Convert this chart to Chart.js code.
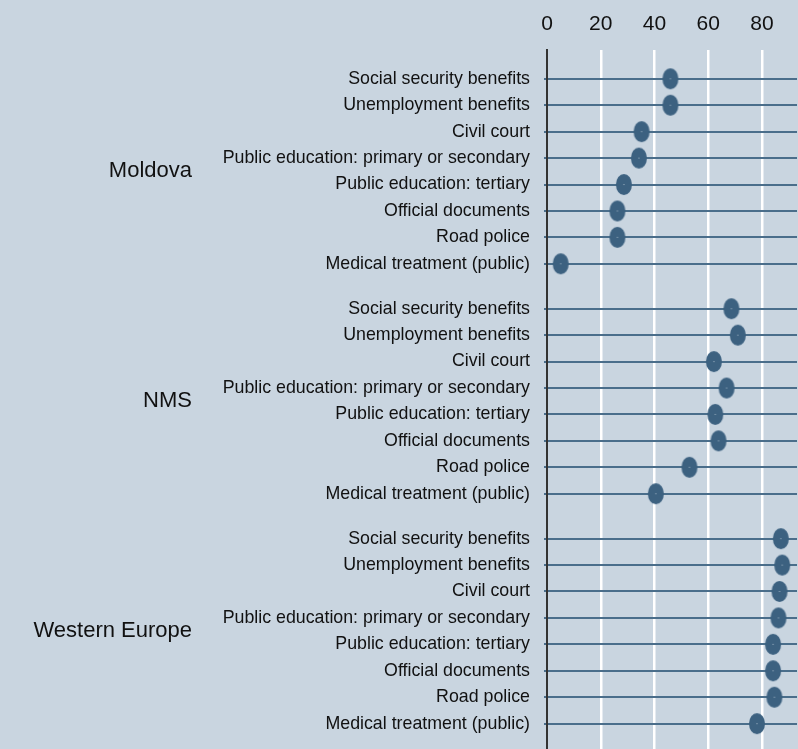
<!DOCTYPE html>
<html>
<head>
  <title>Dot plot</title>
  <script src="https://cdn.jsdelivr.net/npm/chart.js"></script>
  <style>
    body { margin: 0; background: #c9d5e0; }
    canvas { display: block; }
  </style>
</head>
<body>
  <canvas id="chart" width="798" height="749"></canvas>
  <script>
    var groups = ['Moldova', 'NMS', 'Western Europe'];
    var services = [
      'Social security benefits',
      'Unemployment benefits',
      'Civil court',
      'Public education: primary or secondary',
      'Public education: tertiary',
      'Official documents',
      'Road police',
      'Medical treatment (public)'
    ];
    var moldova = [45.9, 45.9, 35.2, 34.2, 28.6, 26.2, 26.2, 5.1];
    var nms = [68.6, 71.0, 62.1, 66.8, 62.6, 63.8, 53.0, 40.5];
    var westernEurope = [87.0, 87.5, 86.5, 86.1, 84.1, 84.1, 84.6, 78.1];
    var xTicks = [0, 20, 40, 60, 80];

    var groupValues = [moldova, nms, westernEurope];
    var groupStep = 8.7;  // rows between group starts (8 rows + gap)
    var family = "'Liberation Sans', Arial, sans-serif";

    var rowPos = [], rowLabels = [], points = [];
    var groupPos = [];
    for (var g = 0; g < groups.length; g++) {
      groupPos.push(g * groupStep + (services.length - 1) / 2);
      for (var i = 0; i < services.length; i++) {
        var y = g * groupStep + i;
        rowPos.push(y);
        rowLabels.push(services[i]);
        points.push({ x: groupValues[g][i], y: y });
      }
    }

    // oval marker with a small light centre
    function makeDot() {
      var c = document.createElement('canvas');
      c.width = 18; c.height = 23;
      var d = c.getContext('2d');
      d.fillStyle = '#3c6180';
      d.beginPath();
      d.ellipse(9, 11.5, 8, 10.5, 0, 0, Math.PI * 2);
      d.fill();
      d.fillStyle = '#a9bccb';
      d.fillRect(8.5, 11, 1, 1);
      return c;
    }

    // drop the half-label padding chart.js adds at the ends of an axis
    function noPad(s) {
      s.paddingLeft = 0; s.paddingRight = 0;
      s.paddingTop = 0; s.paddingBottom = 0;
    }

    var yMin = -1.09, yMax = 25.36;

    new Chart(document.getElementById('chart').getContext('2d'), {
      type: 'scatter',
      data: {
        datasets: [{
          data: points,
          pointStyle: makeDot(),
          pointRadius: 10,
          pointHoverRadius: 10,
          clip: false
        }]
      },
      options: {
        responsive: false,
        animation: false,
        layout: { autoPadding: false, padding: { top: 0, right: 1, bottom: 0, left: 0 } },
        plugins: { legend: { display: false }, tooltip: { enabled: false } },
        scales: {
          x: {
            type: 'linear',
            position: 'top',
            min: 0,
            max: 93,
            afterBuildTicks: function(s) { s.ticks = xTicks.map(function(v) { return { value: v }; }); },
            afterFit: function(s) { s.height = 50; noPad(s); },
            ticks: {
              color: '#111',
              padding: 13,
              font: { family: family, size: 21 }
            },
            grid: {
              color: function(c) { return c.tick && c.tick.value === 0 ? 'rgba(0,0,0,0)' : '#ffffff'; },
              lineWidth: 2.5,
              drawTicks: false
            },
            border: { display: false }
          },
          y: {
            type: 'linear',
            position: 'left',
            reverse: true,
            min: yMin,
            max: yMax,
            weight: 0,
            afterBuildTicks: function(s) { s.ticks = rowPos.map(function(v) { return { value: v }; }); },
            afterFit: function(s) { s.width = 347; noPad(s); },
            ticks: {
              autoSkip: false,
              color: '#111',
              padding: 14,
              font: { family: family, size: 17.8 },
              callback: function(v, i) { return rowLabels[i]; }
            },
            grid: { color: '#4a6e8b', lineWidth: 2, tickLength: 3 },
            border: { display: true, color: '#333', width: 2 }
          },
          groups: {
            type: 'linear',
            axis: 'y',
            position: 'left',
            reverse: true,
            min: yMin,
            max: yMax,
            weight: 1,
            afterBuildTicks: function(s) { s.ticks = groupPos.map(function(v) { return { value: v }; }); },
            afterFit: function(s) { s.width = 200; noPad(s); },
            ticks: {
              autoSkip: false,
              color: '#111',
              padding: 8,
              font: { family: family, size: 22 },
              callback: function(v, i) { return groups[i]; }
            },
            grid: { display: false, drawTicks: false },
            border: { display: false }
          }
        }
      }
    });
  </script>
</body>
</html>
